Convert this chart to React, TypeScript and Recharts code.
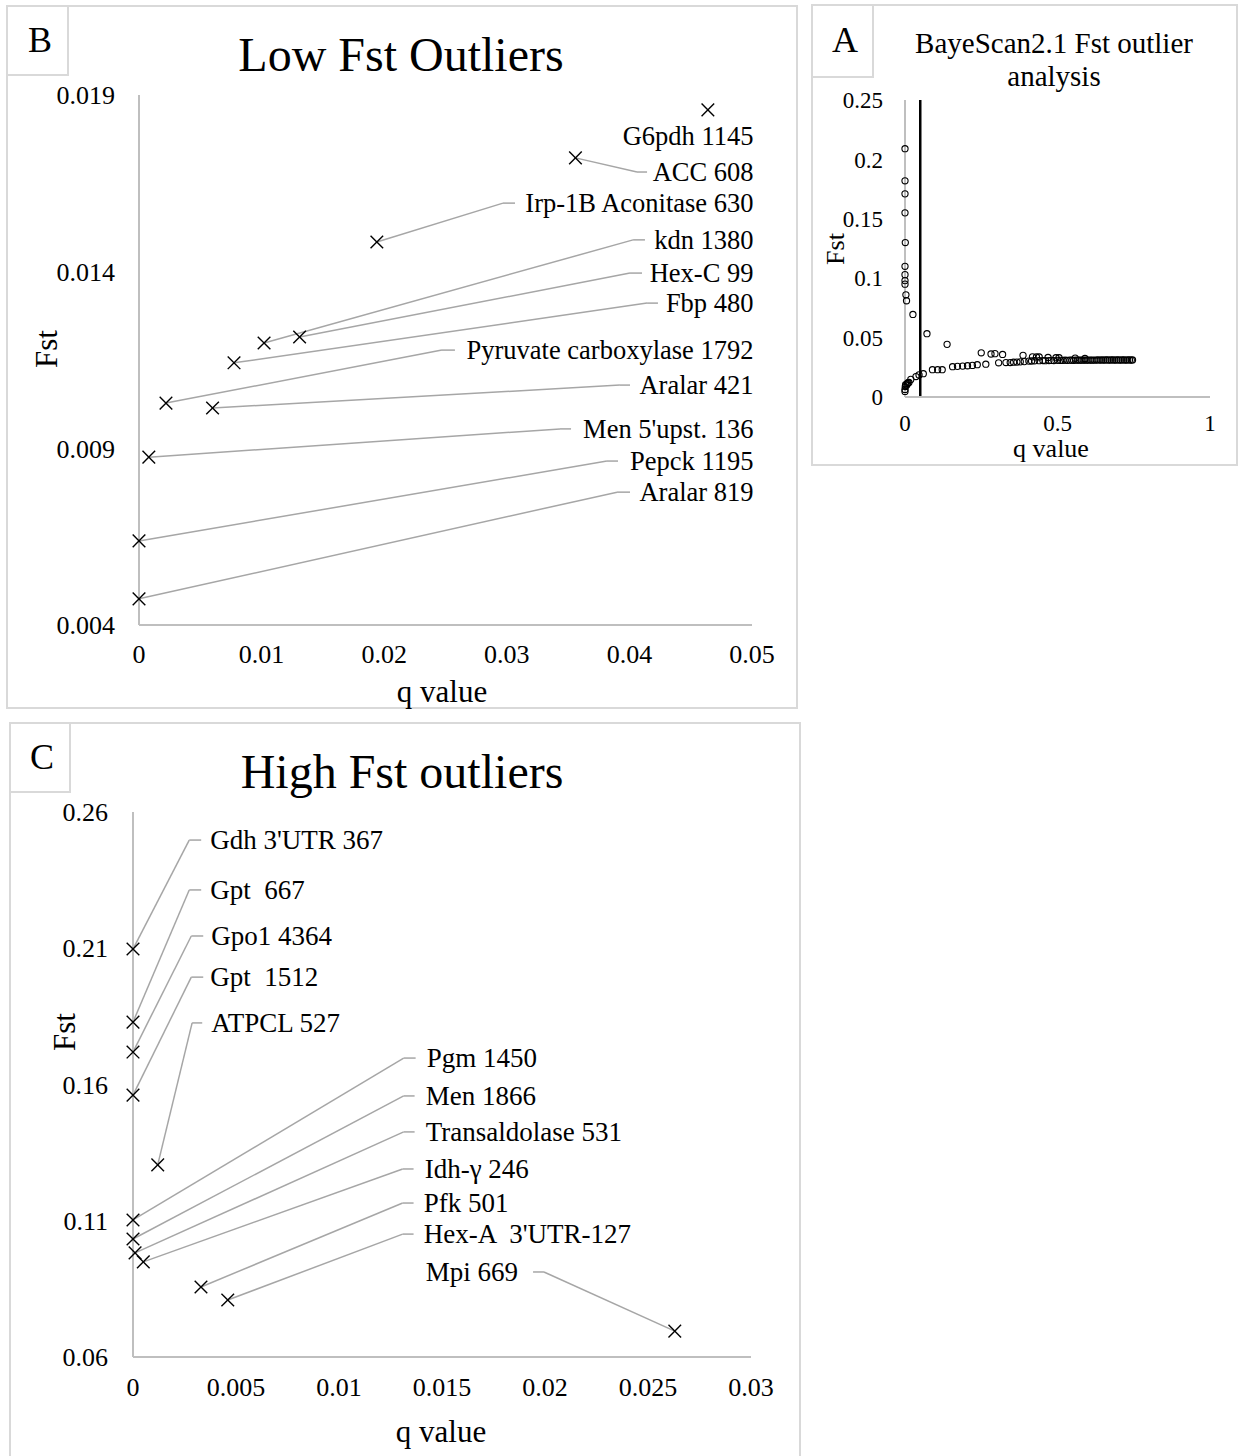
import React from 'react';
import { ScatterChart, Scatter, XAxis, YAxis, ReferenceLine } from 'recharts';

const SERIF = "'Liberation Serif', 'Times New Roman', Times, serif";
const AXIS_GREY = '#bfbfbf';
const LEADER_GREY = '#a6a6a6';
const BORDER_GREY = '#d9d9d9';

// ---------- Panel A: BayeScan2.1 all loci (q value, Fst)
const scanPoints: [number, number][] = [
  [0, 0.209], [0, 0.182], [0, 0.171], [0, 0.155], [0.001, 0.13], [0, 0.11], [0, 0.103],
  [0, 0.098], [0, 0.095], [0.003, 0.086], [0.005, 0.081], [0.026, 0.0695],
  [0, 0.0047], [0, 0.0064], [0.001, 0.0088], [0.002, 0.0103], [0.006, 0.0101], [0.008, 0.0114],
  [0.01, 0.012], [0.013, 0.0122], [0.019, 0.0148], [0.036, 0.0172], [0.046, 0.0186],
  [0.072, 0.0533], [0.138, 0.0443],
  [0.06, 0.0196], [0.09, 0.023], [0.107, 0.023], [0.122, 0.023],
  [0.156, 0.0255], [0.172, 0.0258], [0.189, 0.026], [0.205, 0.0263], [0.221, 0.0266], [0.237, 0.0272],
  [0.25, 0.0372], [0.265, 0.0276], [0.282, 0.0362], [0.295, 0.0365], [0.32, 0.0358],
  [0.307, 0.0288], [0.331, 0.029], [0.345, 0.029], [0.356, 0.0293], [0.367, 0.0294], [0.378, 0.0296],
  [0.391, 0.0298], [0.406, 0.0302],
  [0.387, 0.0351], [0.418, 0.0338], [0.431, 0.0337], [0.44, 0.0337], [0.469, 0.0333], [0.495, 0.0331],
  [0.505, 0.0331], [0.558, 0.0327], [0.59, 0.0324],
  [0.415, 0.0303], [0.425, 0.0305], [0.44, 0.0306], [0.452, 0.0307], [0.46, 0.0306], [0.472, 0.0307],
  [0.48, 0.0308], [0.488, 0.0307], [0.5, 0.0309], [0.51, 0.0308], [0.518, 0.0309], [0.525, 0.031],
  [0.532, 0.0309], [0.54, 0.031], [0.547, 0.031], [0.553, 0.0309], [0.56, 0.031], [0.567, 0.0311],
  [0.573, 0.031], [0.58, 0.031], [0.587, 0.0311], [0.594, 0.031], [0.6, 0.0311], [0.607, 0.0311],
  [0.613, 0.031], [0.62, 0.0311], [0.627, 0.0311], [0.633, 0.0312], [0.64, 0.0311], [0.646, 0.0312],
  [0.652, 0.0311], [0.658, 0.0312], [0.664, 0.0312], [0.67, 0.0311], [0.676, 0.0312], [0.682, 0.0312],
  [0.688, 0.0311], [0.694, 0.0312], [0.7, 0.0312], [0.706, 0.0311], [0.712, 0.0312], [0.718, 0.0312],
  [0.724, 0.0311], [0.73, 0.0312], [0.736, 0.0312], [0.742, 0.0311], [0.746, 0.0312],
];
const scanThresholdQ = 0.05;
const scanTicksX = [0, 0.5, 1];
const scanTicksY = [0, 0.05, 0.1, 0.15, 0.2, 0.25];

// ---------- Panel B: low Fst outliers
const lowNames = [
  'G6pdh 1145', 'ACC 608', 'Irp-1B Aconitase 630', 'kdn 1380', 'Hex-C 99', 'Fbp 480',
  'Pyruvate carboxylase 1792', 'Aralar 421', "Men 5'upst. 136", 'Pepck 1195', 'Aralar 819',
];
const lowQ = [0.0464, 0.0356, 0.0194, 0.0102, 0.0131, 0.00775, 0.0022, 0.006, 0.0008, 0, 0];
const lowFst = [0.01858, 0.01722, 0.01484, 0.01198, 0.01215, 0.01142, 0.01028, 0.01014, 0.00875, 0.00638, 0.00474];
const lowTicksX = [0, 0.01, 0.02, 0.03, 0.04, 0.05];
const lowTicksY = [0.004, 0.009, 0.014, 0.019];
// label placement, in data units
const lowLabelFst = [0.01784, 0.01682, 0.01594, 0.0149, 0.01396, 0.01311, 0.01178, 0.01079, 0.00955, 0.00864, 0.00776];
const lowElbowQ = [NaN, 0.04062, 0.02969, 0.0403, 0.04005, 0.04144, 0.02471, 0.03923, 0.03434, 0.03817, 0.03899];
const lowShoulderQ = [NaN, 0.04144, 0.03067, 0.04127, 0.04103, 0.04233, 0.02577, 0.04005, 0.03524, 0.03907, 0.04005];
const lowLabelRightQ = 0.05;

// ---------- Panel C: high Fst outliers
const highNames = [
  "Gdh 3'UTR 367", 'Gpt  667', 'Gpo1 4364', 'Gpt  1512', 'ATPCL 527', 'Pgm 1450', 'Men 1866',
  'Transaldolase 531', 'Idh-\u03b3 246', 'Pfk 501', "Hex-A  3'UTR-127", 'Mpi 669',
];
const highQ = [0, 0, 0, 0, 0.0012, 0, 0, 0.0001, 0.0005, 0.0033, 0.0046, 0.0263];
const highFst = [0.2097, 0.1829, 0.1719, 0.1561, 0.1305, 0.1103, 0.1033, 0.0982, 0.0949, 0.0857, 0.0809, 0.0695];
const highTicksX = [0, 0.005, 0.01, 0.015, 0.02, 0.025, 0.03];
const highTicksY = [0.06, 0.11, 0.16, 0.21, 0.26];
// label placement, in data units
const highLabelQ = [0.00375, 0.00375, 0.0038, 0.00375, 0.0038, 0.01426, 0.01421, 0.01421, 0.01416, 0.01411, 0.01411, 0.01421];
const highLabelFst = [0.2497, 0.2314, 0.2145, 0.1994, 0.1826, 0.1697, 0.1558, 0.1426, 0.129, 0.1165, 0.1051, 0.0912];
const highElbowQ = [0.00273, 0.00273, 0.00283, 0.00283, 0.00287, 0.01314, 0.01314, 0.01314, 0.01309, 0.01309, 0.01309, 0.01995];
const highShoulderQ = [0.00331, 0.00331, 0.00341, 0.00341, 0.00336, 0.01372, 0.01367, 0.01367, 0.01362, 0.01362, 0.01362, 0.01942];

const fmt = (v: number) => String(Number(v.toFixed(4)));

const XMark = (props: any) => {
  const { cx, cy } = props;
  if (cx == null || cy == null) return <g />;
  const s = 6.3;
  return (
    <g>
      <line x1={cx - s} y1={cy - s} x2={cx + s} y2={cy + s} stroke="#000" strokeWidth={1.4} />
      <line x1={cx - s} y1={cy + s} x2={cx + s} y2={cy - s} stroke="#000" strokeWidth={1.4} />
    </g>
  );
};

const OpenCircle = (props: any) => {
  const { cx, cy } = props;
  if (cx == null || cy == null) return <g />;
  return <circle cx={cx} cy={cy} r={3.1} fill="none" stroke="#000" strokeWidth={1.1} />;
};

const makeLabel = (anchor: 'start' | 'end', size: number, dx: number) => (props: any) => {
  const { cx, cy, payload } = props;
  if (cx == null || cy == null) return <g />;
  return (
    <text
      x={cx + dx}
      y={cy}
      dy="0.33em"
      textAnchor={anchor}
      fontFamily={SERIF}
      fontSize={size}
      fill="#000"
      style={{ whiteSpace: 'pre' }}
    >
      {payload.name}
    </text>
  );
};
const RightLabel = makeLabel('end', 26.5, 1.5);
const LeftLabel = makeLabel('start', 27, 0);

const tickStyle = (size: number) => ({ fill: '#000', fontSize: size, fontFamily: SERIF });
const axisLine = { stroke: AXIS_GREY, strokeWidth: 2 };

const leaderLines = (
  q: number[], f: number[], elbowQ: number[], shoulderQ: number[], labelF: number[], prefix: string,
) => {
  const out: React.ReactElement[] = [];
  q.forEach((qv, i) => {
    if (Number.isNaN(elbowQ[i])) return;
    out.push(
      <ReferenceLine
        key={`${prefix}a${i}`}
        segment={[{ x: qv, y: f[i] }, { x: elbowQ[i], y: labelF[i] }]}
        stroke={LEADER_GREY}
        strokeWidth={1.5}
        ifOverflow="visible"
      />,
    );
    out.push(
      <ReferenceLine
        key={`${prefix}b${i}`}
        segment={[{ x: elbowQ[i], y: labelF[i] }, { x: shoulderQ[i], y: labelF[i] }]}
        stroke={LEADER_GREY}
        strokeWidth={1.5}
        ifOverflow="visible"
      />,
    );
  });
  return out;
};

function PanelA() {
  const data = scanPoints.map(([q, f]) => ({ q, f }));
  return (
    <ScatterChart width={427} height={462} margin={{ top: 94, right: 29, bottom: 31, left: 0 }}>
      <XAxis
        type="number" dataKey="q" domain={[0, 1]} ticks={scanTicksX} interval={0}
        tickFormatter={fmt} tickLine={false} tickSize={0} tickMargin={18}
        axisLine={axisLine} tick={tickStyle(23)} height={40}
      />
      <YAxis
        type="number" dataKey="f" domain={[0, 0.25]} ticks={scanTicksY} interval={0}
        tickFormatter={fmt} tickLine={false} tickSize={0} tickMargin={22}
        axisLine={axisLine} tick={tickStyle(23)} width={93}
      />
      <ReferenceLine x={scanThresholdQ} stroke="#000" strokeWidth={2.5} />
      <Scatter data={data} shape={OpenCircle} isAnimationActive={false} />
    </ScatterChart>
  );
}

function PanelB() {
  const points = lowNames.map((name, i) => ({ q: lowQ[i], f: lowFst[i], name }));
  const labels = lowNames.map((name, i) => ({ q: lowLabelRightQ, f: lowLabelFst[i], name }));
  return (
    <ScatterChart width={790} height={700} margin={{ top: 87, right: 46, bottom: 33, left: 0 }}>
      <XAxis
        type="number" dataKey="q" domain={[0, 0.05]} ticks={lowTicksX} interval={0}
        tickFormatter={fmt} tickLine={false} tickSize={0} tickMargin={20}
        axisLine={axisLine} tick={tickStyle(26)} height={50}
      />
      <YAxis
        type="number" dataKey="f" domain={[0.004, 0.019]} ticks={lowTicksY} interval={0}
        tickFormatter={fmt} tickLine={false} tickSize={0} tickMargin={24}
        axisLine={axisLine} tick={tickStyle(26)} width={131}
      />
      {leaderLines(lowQ, lowFst, lowElbowQ, lowShoulderQ, lowLabelFst, 'b')}
      <Scatter data={labels} shape={RightLabel} isAnimationActive={false} />
      <Scatter data={points} shape={XMark} isAnimationActive={false} />
    </ScatterChart>
  );
}

function PanelC() {
  const points = highNames.map((name, i) => ({ q: highQ[i], f: highFst[i], name }));
  const labels = highNames.map((name, i) => ({ q: highLabelQ[i], f: highLabelFst[i], name }));
  return (
    <ScatterChart width={792} height={734} margin={{ top: 90, right: 49, bottom: 39, left: 0 }}>
      <XAxis
        type="number" dataKey="q" domain={[0, 0.03]} ticks={highTicksX} interval={0}
        tickFormatter={fmt} tickLine={false} tickSize={0} tickMargin={21}
        axisLine={axisLine} tick={tickStyle(26)} height={60}
      />
      <YAxis
        type="number" dataKey="f" domain={[0.06, 0.26]} ticks={highTicksY} interval={0}
        tickFormatter={fmt} tickLine={false} tickSize={0} tickMargin={25}
        axisLine={axisLine} tick={tickStyle(26)} width={125}
      />
      {leaderLines(highQ, highFst, highElbowQ, highShoulderQ, highLabelFst, 'c')}
      <Scatter data={labels} shape={LeftLabel} isAnimationActive={false} />
      <Scatter data={points} shape={XMark} isAnimationActive={false} />
    </ScatterChart>
  );
}

function Frame() {
  const t = { fontFamily: SERIF, fill: '#000' } as const;
  return (
    <svg width={1239} height={1456} style={{ position: 'absolute', left: 0, top: 0 }}>
      <rect x={7} y={6} width={790} height={702} fill="none" stroke={BORDER_GREY} strokeWidth={2} />
      <rect x={7} y={6} width={61} height={69} fill="none" stroke={BORDER_GREY} strokeWidth={2} />
      <rect x={812} y={5} width={425} height={460} fill="none" stroke={BORDER_GREY} strokeWidth={2} />
      <rect x={812} y={5} width={61} height={72} fill="none" stroke={BORDER_GREY} strokeWidth={2} />
      <rect x={10} y={723} width={790} height={745} fill="none" stroke={BORDER_GREY} strokeWidth={2} />
      <rect x={10} y={723} width={60} height={69} fill="none" stroke={BORDER_GREY} strokeWidth={2} />

      <text {...t} x={40} y={52} fontSize={36} textAnchor="middle">B</text>
      <text {...t} x={845} y={52} fontSize={36} textAnchor="middle">A</text>
      <text {...t} x={42} y={769} fontSize={36} textAnchor="middle">C</text>

      <text {...t} x={401} y={71} fontSize={48} textAnchor="middle">Low Fst Outliers</text>
      <text {...t} x={402} y={788} fontSize={48} textAnchor="middle">High Fst outliers</text>
      <text {...t} x={1054} y={53} fontSize={29} textAnchor="middle">BayeScan2.1 Fst outlier</text>
      <text {...t} x={1054} y={86} fontSize={29} textAnchor="middle">analysis</text>

      <text {...t} x={442} y={702} fontSize={31} textAnchor="middle">q value</text>
      <text {...t} transform="translate(57,349) rotate(-90)" fontSize={31} textAnchor="middle">Fst</text>
      <text {...t} x={441} y={1442} fontSize={31} textAnchor="middle">q value</text>
      <text {...t} transform="translate(75,1032) rotate(-90)" fontSize={31} textAnchor="middle">Fst</text>
      <text {...t} x={1051} y={457} fontSize={26} textAnchor="middle">q value</text>
      <text {...t} transform="translate(844,249) rotate(-90)" fontSize={26} textAnchor="middle">Fst</text>
    </svg>
  );
}

export default function App() {
  return (
    <div style={{ position: 'absolute', left: 0, top: 0, width: 1239, height: 1456, background: '#fff', overflow: 'hidden' }}>
      <Frame />
      <div style={{ position: 'absolute', left: 812, top: 6 }}><PanelA /></div>
      <div style={{ position: 'absolute', left: 8, top: 8 }}><PanelB /></div>
      <div style={{ position: 'absolute', left: 8, top: 722 }}><PanelC /></div>
    </div>
  );
}
